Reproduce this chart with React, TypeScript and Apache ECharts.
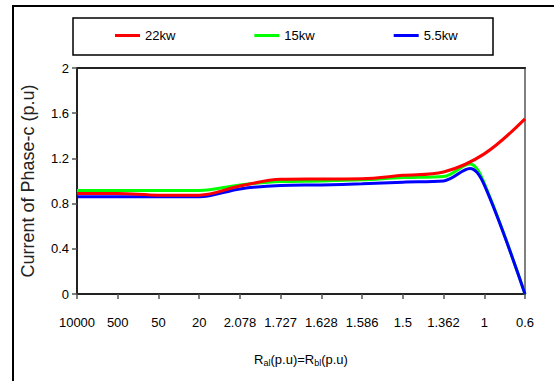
import React, { useEffect, useRef } from "react";
import * as echarts from "echarts";

const categories = ["10000", "500", "50", "20", "2.078", "1.727", "1.628", "1.586", "1.5", "1.362", "1", "0.6"];
const kw22 = [0.89, 0.89, 0.875, 0.875, 0.955, 1.015, 1.018, 1.02, 1.05, 1.08, 1.24, 1.55];
const kw15 = [0.915, 0.915, 0.915, 0.915, 0.965, 0.995, 1.0, 1.01, 1.03, 1.04, 0.98, 0];
const kw55 = [0.86, 0.86, 0.86, 0.86, 0.93, 0.96, 0.965, 0.975, 0.99, 1.0, 0.965, 0];
const bumpPos = 9.65;
const bump15 = 1.15;
const bump55 = 1.11;
const yTicks = [0, 0.4, 0.8, 1.2, 1.6, 2];
const seriesNames = ["22kw", "15kw", "5.5kw"];

const SANS = "'Liberation Sans', Arial, sans-serif";

function toPairs(vals: number[], bumpX?: number, bumpY?: number) {
  const out: number[][] = vals.map((v, i) => [i, v]);
  if (bumpX !== undefined && bumpY !== undefined) {
    out.push([bumpX, bumpY]);
    out.sort((a, b) => a[0] - b[0]);
  }
  return out;
}

export default function App() {
  const ref = useRef<HTMLDivElement>(null);
  useEffect(() => {
    if (!ref.current) return;
    const chart = echarts.init(ref.current, null, { renderer: "svg" });
    const lineSeries = (name: string, data: number[][], color: string, z: number) => ({
      name,
      type: "line",
      data,
      smooth: 0.35,
      showSymbol: false,
      symbol: "none",
      z,
      lineStyle: { color, width: 3 },
      itemStyle: { color },
    });
    chart.setOption({
      animation: false,
      backgroundColor: "#ffffff",
      graphic: [
        { type: "rect", shape: { x: 13, y: 6, width: 700, height: 500 }, style: { fill: "none", stroke: "#000", lineWidth: 2 }, z: 0 },
        { type: "rect", shape: { x: 73, y: 18, width: 420, height: 37 }, style: { fill: "none", stroke: "#000", lineWidth: 1.5 }, z: 0 },
      ],
      legend: {
        data: seriesNames,
        left: 115,
        top: 29,
        padding: 0,
        icon: "rect",
        itemWidth: 25,
        itemHeight: 3,
        itemGap: 79,
        textStyle: { fontFamily: SANS, fontSize: 13, color: "#000" },
      },
      grid: {
        left: 77,
        right: 29,
        top: 68,
        bottom: 87,
        show: true,
        borderColor: "#808080",
        borderWidth: 2,
        backgroundColor: "transparent",
      },
      xAxis: [
        {
          type: "value",
          min: 0,
          max: categories.length - 1,
          interval: 1,
          splitLine: { show: false },
          axisLine: { lineStyle: { color: "#222", width: 2 } },
          axisTick: { show: true, length: 5, lineStyle: { color: "#555", width: 1.5 } },
          axisLabel: {
            margin: 22,
            fontFamily: SANS,
            fontSize: 13,
            color: "#000",
            formatter: (v: number) => categories[Math.round(v)] ?? "",
          },
          name: "{n|R}{s|al}{n|(p.u)=R}{s|bl}{n|(p.u)}",
          nameLocation: "middle",
          nameGap: 59,
          nameTextStyle: {
            rich: {
              n: { fontFamily: SANS, fontSize: 13, color: "#000", lineHeight: 14, verticalAlign: "top" },
              s: { fontFamily: SANS, fontSize: 9, color: "#000", lineHeight: 9, padding: [8, 0, 0, 0], verticalAlign: "bottom" },
            },
          },
        },
        {
          type: "value",
          position: "top",
          min: 0,
          max: categories.length - 1,
          axisLine: { show: true, lineStyle: { color: "#222", width: 2 } },
          axisTick: { show: false },
          axisLabel: { show: false },
          splitLine: { show: false },
        },
      ],
      yAxis: {
        type: "value",
        min: yTicks[0],
        max: yTicks[yTicks.length - 1],
        interval: 0.4,
        splitLine: { show: false },
        axisLine: { show: true, lineStyle: { color: "#222", width: 2 } },
        axisTick: { show: true, length: 5, lineStyle: { color: "#555", width: 1.5 } },
        axisLabel: {
          margin: 8,
          fontFamily: SANS,
          fontSize: 13,
          color: "#000",
          formatter: (v: number) => String(Math.round(v * 10) / 10),
        },
        name: "Current of Phase-c (p.u)",
        nameLocation: "middle",
        nameGap: 40,
        nameRotate: 90,
        nameTextStyle: { fontFamily: SANS, fontSize: 18, color: "#222" },
      },
      series: [
        lineSeries(seriesNames[1], toPairs(kw15, bumpPos, bump15), "#00ff00", 2),
        lineSeries(seriesNames[2], toPairs(kw55, bumpPos, bump55), "#0000ff", 3),
        lineSeries(seriesNames[0], toPairs(kw22), "#ff0000", 4),
      ],
    });
    return () => chart.dispose();
  }, []);
  return <div ref={ref} style={{ position: "fixed", left: 0, top: 0, width: 554, height: 381 }} />;
}
